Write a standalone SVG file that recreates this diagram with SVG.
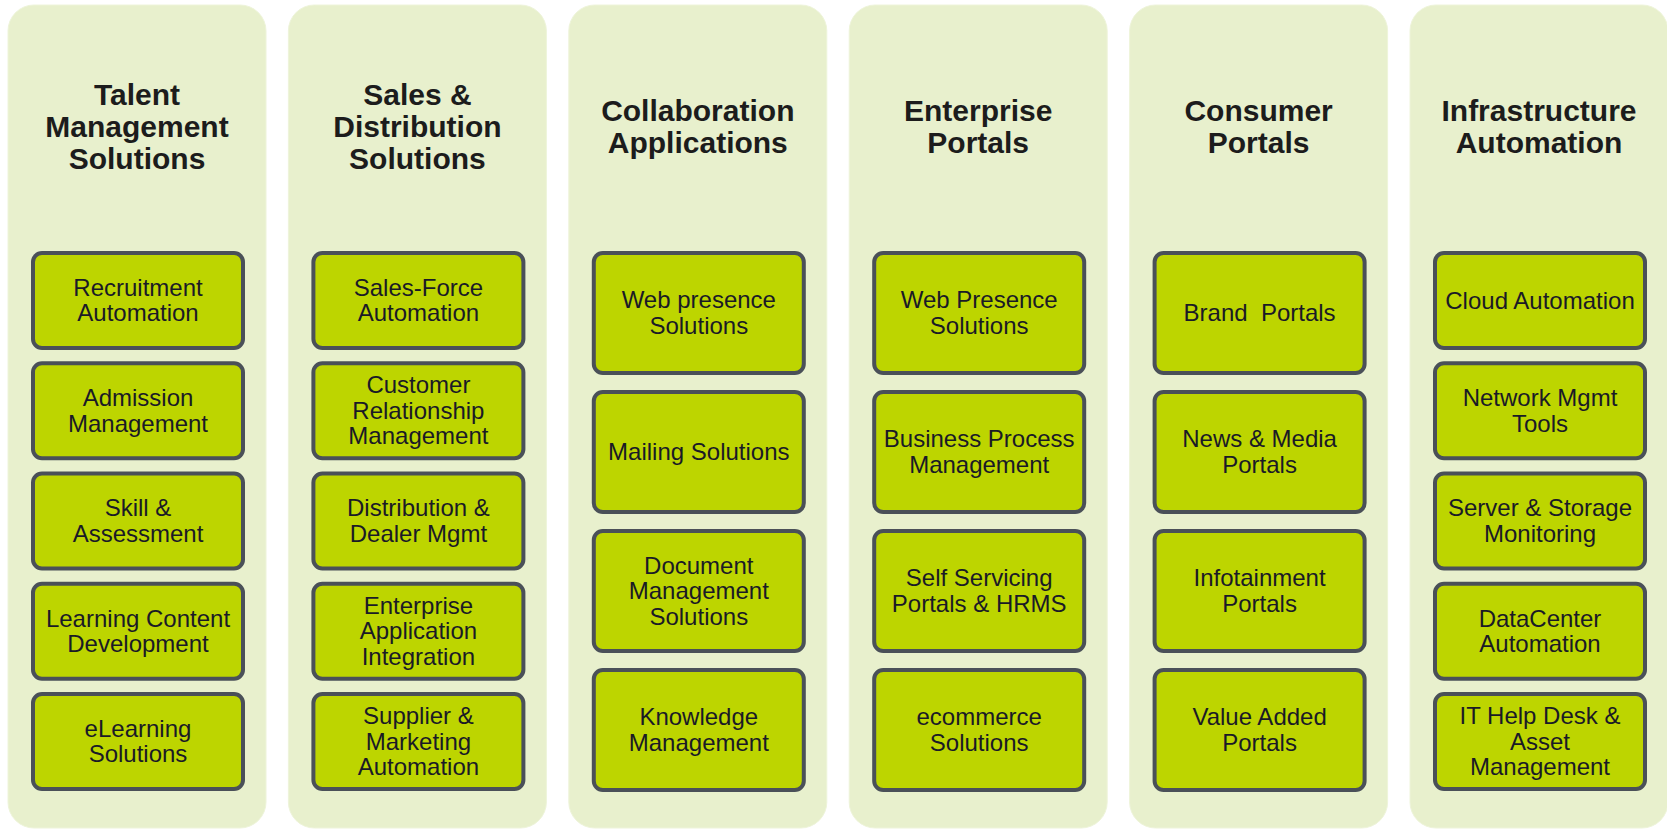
<svg xmlns="http://www.w3.org/2000/svg" width="1667" height="830" viewBox="0 0 1667 830">
<style>
.col{fill:#e8f0cd;stroke:#eef4da;stroke-width:1}
.box{fill:#bdd500;stroke:#4a5058;stroke-width:4}
.title{font-family:"Liberation Sans",Arial,sans-serif;font-weight:bold;font-size:30px;fill:#1c1c1c;text-anchor:middle}
.lbl{font-family:"Liberation Sans",Arial,sans-serif;font-size:24px;fill:#1a1a26;text-anchor:middle;white-space:pre}
</style>
<rect width="1667" height="830" fill="#ffffff"/>

<g id="col-talent">
<rect class="col" x="8" y="5" width="258" height="823" rx="26"/>
<text class="title" x="137"><tspan x="137" y="105">Talent</tspan><tspan x="137" y="137">Management</tspan><tspan x="137" y="169">Solutions</tspan></text>
<g id="n-recruitment"><rect class="box" x="33" y="253" width="210" height="95" rx="9"/><text class="lbl"><tspan x="138" y="295.75">Recruitment</tspan><tspan x="138" y="321.25">Automation</tspan></text></g>
<g id="n-admission"><rect class="box" x="33" y="363.25" width="210" height="95" rx="9"/><text class="lbl"><tspan x="138" y="406">Admission</tspan><tspan x="138" y="431.5">Management</tspan></text></g>
<g id="n-skill"><rect class="box" x="33" y="473.5" width="210" height="95" rx="9"/><text class="lbl"><tspan x="138" y="516.25">Skill &amp;</tspan><tspan x="138" y="541.75">Assessment</tspan></text></g>
<g id="n-learning"><rect class="box" x="33" y="583.75" width="210" height="95" rx="9"/><text class="lbl"><tspan x="138" y="626.5">Learning Content</tspan><tspan x="138" y="652">Development</tspan></text></g>
<g id="n-elearning"><rect class="box" x="33" y="694" width="210" height="95" rx="9"/><text class="lbl"><tspan x="138" y="736.75">eLearning</tspan><tspan x="138" y="762.25">Solutions</tspan></text></g>
</g>

<g id="col-sales">
<rect class="col" x="288.4" y="5" width="258" height="823" rx="26"/>
<text class="title"><tspan x="417.4" y="105">Sales &amp;</tspan><tspan x="417.4" y="137">Distribution</tspan><tspan x="417.4" y="169">Solutions</tspan></text>
<g id="n-salesforce"><rect class="box" x="313.4" y="253" width="210" height="95" rx="9"/><text class="lbl"><tspan x="418.4" y="295.75">Sales-Force</tspan><tspan x="418.4" y="321.25">Automation</tspan></text></g>
<g id="n-crm"><rect class="box" x="313.4" y="363.25" width="210" height="95" rx="9"/><text class="lbl"><tspan x="418.4" y="393.25">Customer</tspan><tspan x="418.4" y="418.75">Relationship</tspan><tspan x="418.4" y="444.25">Management</tspan></text></g>
<g id="n-distribution"><rect class="box" x="313.4" y="473.5" width="210" height="95" rx="9"/><text class="lbl"><tspan x="418.4" y="516.25">Distribution &amp;</tspan><tspan x="418.4" y="541.75">Dealer Mgmt</tspan></text></g>
<g id="n-eai"><rect class="box" x="313.4" y="583.75" width="210" height="95" rx="9"/><text class="lbl"><tspan x="418.4" y="613.75">Enterprise</tspan><tspan x="418.4" y="639.25">Application</tspan><tspan x="418.4" y="664.75">Integration</tspan></text></g>
<g id="n-supplier"><rect class="box" x="313.4" y="694" width="210" height="95" rx="9"/><text class="lbl"><tspan x="418.4" y="724">Supplier &amp;</tspan><tspan x="418.4" y="749.5">Marketing</tspan><tspan x="418.4" y="775">Automation</tspan></text></g>
</g>

<g id="col-collab">
<rect class="col" x="568.8" y="5" width="258" height="823" rx="26"/>
<text class="title"><tspan x="697.8" y="121">Collaboration</tspan><tspan x="697.8" y="153">Applications</tspan></text>
<g id="n-webpresence"><rect class="box" x="593.8" y="253" width="210" height="120" rx="9"/><text class="lbl"><tspan x="698.8" y="308.25">Web presence</tspan><tspan x="698.8" y="333.75">Solutions</tspan></text></g>
<g id="n-mailing"><rect class="box" x="593.8" y="392" width="210" height="120" rx="9"/><text class="lbl"><tspan x="698.8" y="460">Mailing Solutions</tspan></text></g>
<g id="n-document"><rect class="box" x="593.8" y="531" width="210" height="120" rx="9"/><text class="lbl"><tspan x="698.8" y="573.5">Document</tspan><tspan x="698.8" y="599">Management</tspan><tspan x="698.8" y="624.5">Solutions</tspan></text></g>
<g id="n-knowledge"><rect class="box" x="593.8" y="670" width="210" height="120" rx="9"/><text class="lbl"><tspan x="698.8" y="725.25">Knowledge</tspan><tspan x="698.8" y="750.75">Management</tspan></text></g>
</g>

<g id="col-enterprise">
<rect class="col" x="849.2" y="5" width="258" height="823" rx="26"/>
<text class="title"><tspan x="978.2" y="121">Enterprise</tspan><tspan x="978.2" y="153">Portals</tspan></text>
<g id="n-webpresence2"><rect class="box" x="874.2" y="253" width="210" height="120" rx="9"/><text class="lbl"><tspan x="979.2" y="308.25">Web Presence</tspan><tspan x="979.2" y="333.75">Solutions</tspan></text></g>
<g id="n-bpm"><rect class="box" x="874.2" y="392" width="210" height="120" rx="9"/><text class="lbl"><tspan x="979.2" y="447.25">Business Process</tspan><tspan x="979.2" y="472.75">Management</tspan></text></g>
<g id="n-selfservice"><rect class="box" x="874.2" y="531" width="210" height="120" rx="9"/><text class="lbl"><tspan x="979.2" y="586.25">Self Servicing</tspan><tspan x="979.2" y="611.75">Portals &amp; HRMS</tspan></text></g>
<g id="n-ecommerce"><rect class="box" x="874.2" y="670" width="210" height="120" rx="9"/><text class="lbl"><tspan x="979.2" y="725.25">ecommerce</tspan><tspan x="979.2" y="750.75">Solutions</tspan></text></g>
</g>

<g id="col-consumer">
<rect class="col" x="1129.6" y="5" width="258" height="823" rx="26"/>
<text class="title"><tspan x="1258.6" y="121">Consumer</tspan><tspan x="1258.6" y="153">Portals</tspan></text>
<g id="n-brand"><rect class="box" x="1154.6" y="253" width="210" height="120" rx="9"/><text class="lbl"><tspan x="1259.6" y="321">Brand  Portals</tspan></text></g>
<g id="n-news"><rect class="box" x="1154.6" y="392" width="210" height="120" rx="9"/><text class="lbl"><tspan x="1259.6" y="447.25">News &amp; Media</tspan><tspan x="1259.6" y="472.75">Portals</tspan></text></g>
<g id="n-infotainment"><rect class="box" x="1154.6" y="531" width="210" height="120" rx="9"/><text class="lbl"><tspan x="1259.6" y="586.25">Infotainment</tspan><tspan x="1259.6" y="611.75">Portals</tspan></text></g>
<g id="n-valueadded"><rect class="box" x="1154.6" y="670" width="210" height="120" rx="9"/><text class="lbl"><tspan x="1259.6" y="725.25">Value Added</tspan><tspan x="1259.6" y="750.75">Portals</tspan></text></g>
</g>

<g id="col-infra">
<rect class="col" x="1410" y="5" width="258" height="823" rx="26"/>
<text class="title"><tspan x="1539" y="121">Infrastructure</tspan><tspan x="1539" y="153">Automation</tspan></text>
<g id="n-cloud"><rect class="box" x="1435" y="253" width="210" height="95" rx="9"/><text class="lbl"><tspan x="1540" y="308.5">Cloud Automation</tspan></text></g>
<g id="n-network"><rect class="box" x="1435" y="363.25" width="210" height="95" rx="9"/><text class="lbl"><tspan x="1540" y="406">Network Mgmt</tspan><tspan x="1540" y="431.5">Tools</tspan></text></g>
<g id="n-server"><rect class="box" x="1435" y="473.5" width="210" height="95" rx="9"/><text class="lbl"><tspan x="1540" y="516.25">Server &amp; Storage</tspan><tspan x="1540" y="541.75">Monitoring</tspan></text></g>
<g id="n-datacenter"><rect class="box" x="1435" y="583.75" width="210" height="95" rx="9"/><text class="lbl"><tspan x="1540" y="626.5">DataCenter</tspan><tspan x="1540" y="652">Automation</tspan></text></g>
<g id="n-helpdesk"><rect class="box" x="1435" y="694" width="210" height="95" rx="9"/><text class="lbl"><tspan x="1540" y="724">IT Help Desk &amp;</tspan><tspan x="1540" y="749.5">Asset</tspan><tspan x="1540" y="775">Management</tspan></text></g>
</g>
</svg>
